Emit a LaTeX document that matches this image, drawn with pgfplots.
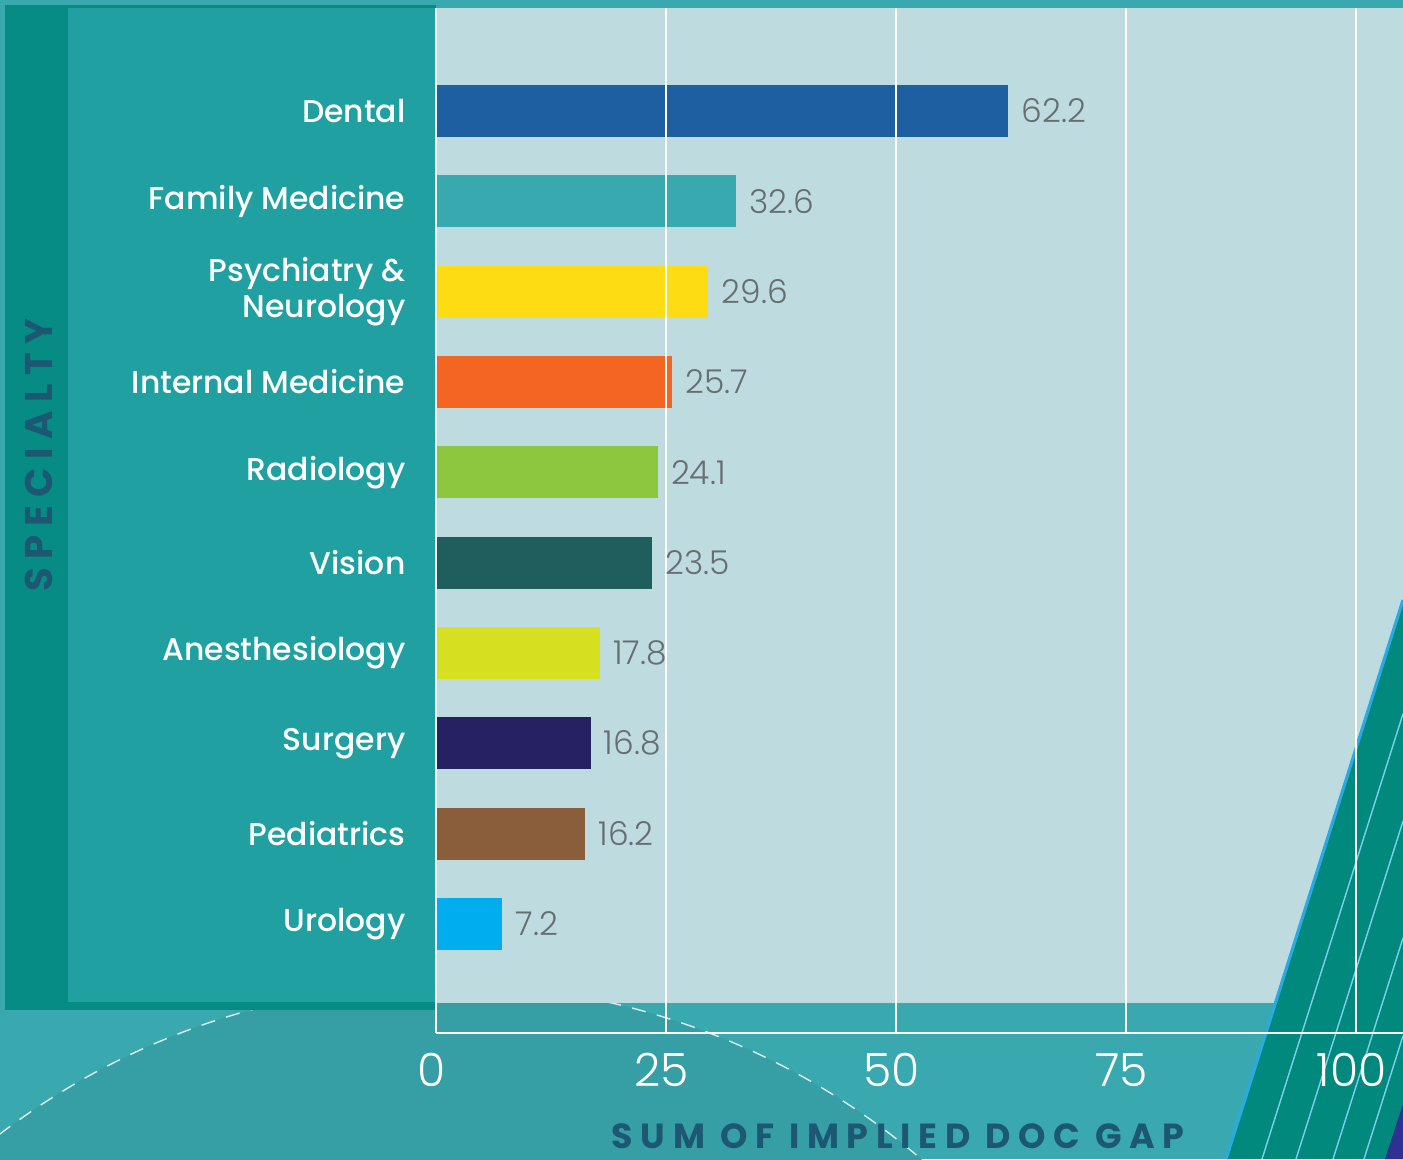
\documentclass[border=0pt]{standalone}
\usepackage{fontspec}
\usepackage{pgfplots}
\pgfplotsset{compat=1.18}
\setmainfont{Poppins}
\newfontfamily\lightfont{Poppins Light}
\newfontfamily\medfont{Poppins Medium}
\newfontfamily\spacedfont{Poppins Bold}[LetterSpace=22]
\definecolor{bgteal}{HTML}{3AA9AF}
\definecolor{circteal}{HTML}{359FA5}
\definecolor{panel}{HTML}{BEDCE0}
\definecolor{leftouter}{HTML}{078C85}
\definecolor{leftinner}{HTML}{21A0A2}
\definecolor{band}{HTML}{00897C}
\definecolor{bandedge}{HTML}{29ABE2}
\definecolor{navy}{HTML}{2E3192}
\definecolor{valgray}{HTML}{676E72}
\definecolor{labblue}{HTML}{1D5873}
\definecolor{cDental}{HTML}{1D5FA0}
\definecolor{cFamily}{HTML}{37A9AF}
\definecolor{cPsych}{HTML}{FDDC14}
\definecolor{cInternal}{HTML}{F26522}
\definecolor{cRadio}{HTML}{8DC63F}
\definecolor{cVision}{HTML}{1E5E5C}
\definecolor{cAnes}{HTML}{D7DF21}
\definecolor{cSurgery}{HTML}{262262}
\definecolor{cPed}{HTML}{8A5D3B}
\definecolor{cUro}{HTML}{00AEEF}
\begin{document}
\begin{tikzpicture}[x=0.35pt,y=0.35pt]
\useasboundingbox (0,0) rectangle (1403,1159);
\clip (0,0) rectangle (1403,1159);
% background
\fill[bgteal] (0,0) rectangle (1403,1159);
\begin{scope}
\clip (0,0) rectangle (1403,156);
\fill[circteal] (445,-560) circle (735);
\draw[white, opacity=0.8, line width=0.5pt, dash pattern=on 5pt off 4pt] (445,-560) circle (735);
\end{scope}
% light plot panel
\fill[panel] (436,156) rectangle (1403,1151);
% left panel
\fill[leftouter] (5,149) rectangle (436,1154);
\fill[leftinner] (68,157) rectangle (436,1151);
% right decorative band
\fill[band] (1226,0) -- (1403,0) -- (1403,559) -- cycle;
\foreach \x in {1262,1296,1333,1364,1388}{
  \draw[bandedge!60!white, line width=0.5pt] (\x,0) -- (1403,{(1403-\x)*3.158});
}
\draw[bandedge, line width=1.1pt] (1226,0) -- (1403,559);
\fill[navy] (1385,0) -- (1403,0) -- (1403,55) -- cycle;
\begin{axis}[
  at={(152.6pt,44.1pt)}, anchor=south west,
  scale only axis, width=338.45pt, height=358.75pt,
  xmin=0, xmax=105.1, ymin=-1.207, ymax=10.14,
  xbar, bar width=0.576, bar shift=0pt,
  axis line style={draw=none},
  axis on top,
  xmajorgrids, grid style={white, line width=0.5pt},
  xtick={0,25,50,75,100}, xticklabels={0,25,50,75,100},
  major tick length=0pt,
  /pgf/number format/assume math mode=true,
  xticklabel style={font=\lightfont\fontsize{16}{16}\selectfont, text=white, inner sep=0pt, yshift=-7pt, xshift=-1.5pt},
  ytick={0,...,9},
  yticklabels={Urology,Pediatrics,Surgery,Anesthesiology,Vision,Radiology,Internal Medicine,{Psychiatry \&\\Neurology},Family Medicine,Dental},
  yticklabel style={font=\medfont\fontsize{11}{12.3}\selectfont, text=white, align=right, inner sep=0pt, xshift=-10.5pt},
  nodes near coords, point meta=explicit,
  nodes near coords style={font=\lightfont\fontsize{11.5}{12}\selectfont, text=valgray, anchor=west, inner sep=0pt, xshift=4.5pt,
    /pgf/number format/.cd, fixed, fixed zerofill, precision=1},
  xlabel={SUM OF IMPLIED DOC GAP},
  xlabel style={at={(axis description cs:0.478,-0.101)}, anchor=center, inner sep=0pt, font=\spacedfont\fontsize{12.2}{13}\selectfont, text=labblue},
  ylabel={SPECIALTY},
  ylabel style={at={(axis description cs:-0.411,0.564)}, anchor=center, inner sep=0pt, font=\spacedfont\fontsize{13.5}{14}\selectfont, text=labblue},
]
\addplot[fill=cDental, draw=none] coordinates {(62.2,9) [62.2]};
\addplot[fill=cFamily, draw=none] coordinates {(32.6,8) [32.6]};
\addplot[fill=cPsych, draw=none] coordinates {(29.6,7) [29.6]};
\addplot[fill=cInternal, draw=none] coordinates {(25.7,6) [25.7]};
\addplot[fill=cRadio, draw=none] coordinates {(24.1,5) [24.1]};
\addplot[fill=cVision, draw=none] coordinates {(23.5,4) [23.5]};
\addplot[fill=cAnes, draw=none] coordinates {(17.8,3) [17.8]};
\addplot[fill=cSurgery, draw=none] coordinates {(16.8,2) [16.8]};
\addplot[fill=cPed, draw=none] coordinates {(16.2,1) [16.2]};
\addplot[fill=cUro, draw=none] coordinates {(7.2,0) [7.2]};
\end{axis}
\draw[white, line width=0.7pt] (436,126) -- (1403,126);
\draw[white, line width=0.5pt] (436,126) -- (436,156);
\end{tikzpicture}
\end{document}
